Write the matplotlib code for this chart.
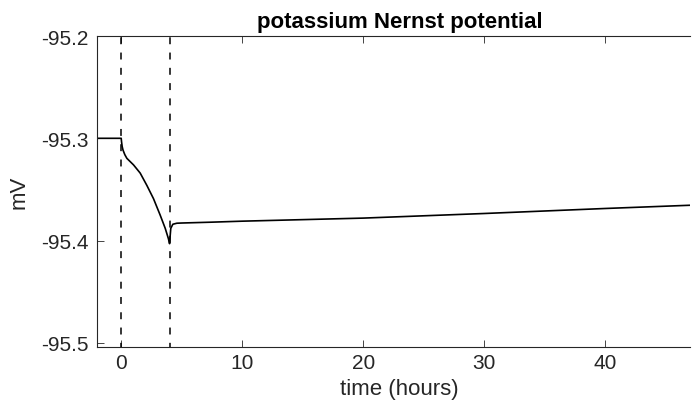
import matplotlib
matplotlib.use("Agg")
import matplotlib.pyplot as plt

plt.rcParams['font.family'] = ['Liberation Sans', 'DejaVu Sans']
plt.rcParams['lines.scale_dashes'] = False

# data (hours, mV)
time_h = [-2, 0, 0.03, 0.08, 0.15, 0.3, 0.47, 1.02, 1.57, 2.12, 2.67, 3.22, 3.64, 3.9, 4.0,
          4.05, 4.1, 4.27, 4.6, 5.0, 7.4, 10, 20, 30, 40, 48]
potential = [-95.300, -95.300, -95.3035, -95.308, -95.3115, -95.3160, -95.3196, -95.326,
             -95.334, -95.346, -95.359, -95.375, -95.388, -95.398, -95.403,
             -95.395, -95.388, -95.384, -95.383, -95.3828, -95.382, -95.381,
             -95.378, -95.3735, -95.3686, -95.3650]
event_times = [0, 4]
x_ticks = [0, 10, 20, 30, 40]
y_ticks = [-95.5, -95.4, -95.3, -95.2]
y_tick_labels = ['-95.5', '-95.4', '-95.3', '-95.2']

fig = plt.figure(figsize=(6.93, 4.14), dpi=100)
ax = fig.add_axes([97/693, 1-347.5/414, (690-97)/693, (347.5-37)/414])

ax.plot(time_h, potential, color='black', lw=1.2)
for et in event_times:
    ax.axvline(et, color='black', lw=1.1, linestyle=(2, (5.0, 6.0)))

x_max_visible = 47.02
ax.set_xlim(-2, x_max_visible)
ax.set_ylim(-95.5035, -95.2)
ax.set_xticks(x_ticks)
ax.set_xticklabels([str(v) for v in x_ticks])
ax.set_yticks(y_ticks)
ax.set_yticklabels(y_tick_labels)

gray = '#262626'
for s in ax.spines.values():
    s.set_color(gray)
    s.set_linewidth(0.8)
ax.spines['right'].set_visible(False)
ax.tick_params(direction='in', length=5, width=0.6, colors=gray, labelsize=15,
               top=True, right=False, pad=5)
ax.tick_params(axis='y', pad=6)

# centre title / xlabel on the full (uncropped) axes span, which runs to x = 48
centre = (48 + 2) / (x_max_visible + 2) / 2
title = ax.set_title('potassium Nernst potential', fontsize=16, fontweight='bold', pad=6.5)
title.set_x(centre)
ax.set_xlabel('time (hours)', fontsize=16, color=gray)
ax.xaxis.set_label_coords(centre, -0.1)
ax.xaxis.label.set_va('top')
ax.set_ylabel('mV', fontsize=16, color=gray, labelpad=8)

fig.savefig('out.png', dpi=100, facecolor='white')
